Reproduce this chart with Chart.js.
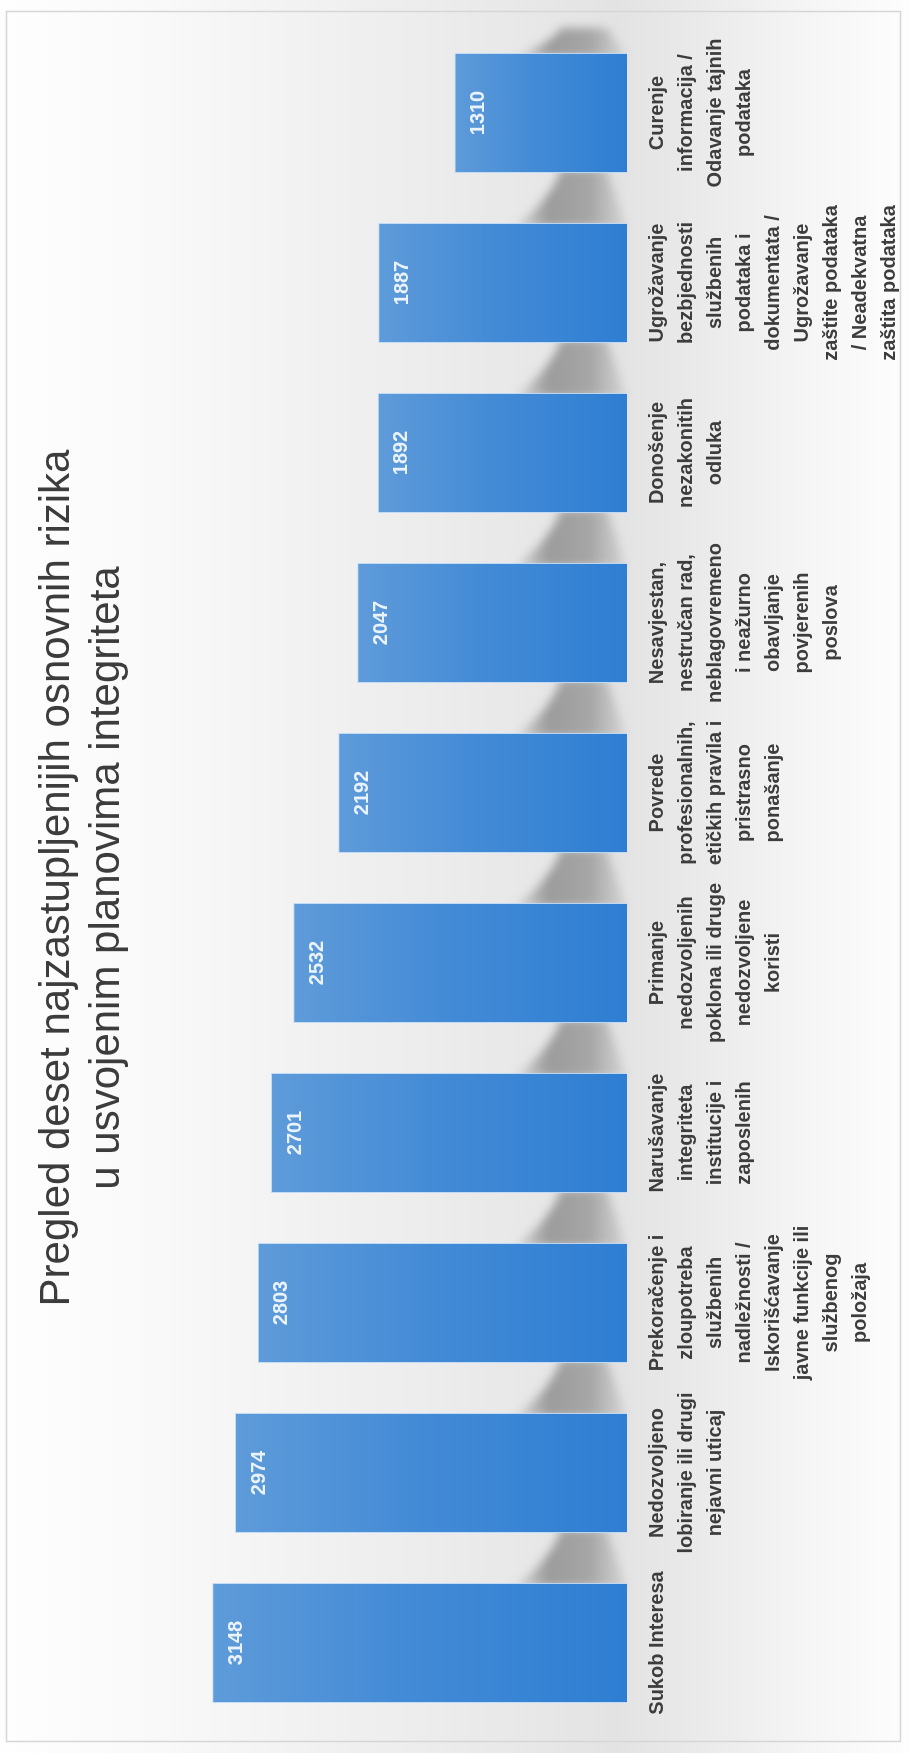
<!DOCTYPE html>
<html>
<head>
<meta charset="utf-8">
<script src="https://cdn.jsdelivr.net/npm/chart.js@4.4.1/dist/chart.umd.min.js"></script>
<style>
html, body { margin: 0; padding: 0; background: #fff; overflow: hidden; }
/* chart is drawn upright, then the whole box is turned a quarter left */
#wrap {
    position: absolute; left: 0; top: 0;
    width: 1753px; height: 909px;
    transform-origin: 0 0;
    transform: translateY(1753px) rotate(-90deg);
}
</style>
</head>
<body>
<div id="wrap"><canvas id="riskChart" width="1753" height="909"></canvas></div>
<script>
const titleLines = [
    "Pregled deset najzastupljenijih osnovnih rizika",
    "u usvojenim planovima integriteta"
];

const categories = [
    ["Sukob Interesa"],
    ["Nedozvoljeno", "lobiranje ili drugi", "nejavni uticaj"],
    ["Prekoračenje i", "zloupotreba", "službenih", "nadležnosti /", "Iskorišćavanje", "javne funkcije ili", "službenog", "položaja"],
    ["Narušavanje", "integriteta", "institucije i", "zaposlenih"],
    ["Primanje", "nedozvoljenih", "poklona ili druge", "nedozvoljene", "koristi"],
    ["Povrede", "profesionalnih,", "etičkih pravila i", "pristrasno", "ponašanje"],
    ["Nesavjestan,", "nestručan rad,", "neblagovremeno", "i neažurno", "obavljanje", "povjerenih", "poslova"],
    ["Donošenje", "nezakonitih", "odluka"],
    ["Ugrožavanje", "bezbjednosti", "službenih", "podataka i", "dokumentata /", "Ugrožavanje", "zaštite podataka", "/ Neadekvatna", "zaštita podataka"],
    ["Curenje", "informacija /", "Odavanje tajnih", "podataka"]
];

const counts = [3148, 2974, 2803, 2701, 2532, 2192, 2047, 1892, 1887, 1310];

const axisMin = 0;
const axisMax = 3500;

const FONT = "'Liberation Sans', Arial, sans-serif";
Chart.defaults.font.family = FONT;

function barFill(context) {
    const chart = context.chart;
    if (!chart.chartArea || !chart.scales.y) return "#3f88d4";
    const y = chart.scales.y;
    const top = y.getPixelForValue(counts[context.dataIndex]);
    const bottom = y.getPixelForValue(0);
    const g = chart.ctx.createLinearGradient(0, top, 0, bottom);
    g.addColorStop(0, "#5e9bd9");
    g.addColorStop(0.45, "#448bd6");
    g.addColorStop(1, "#2e7ed3");
    return g;
}

// soft page backdrop, frame and the grey ribbon behind the bars
const backdrop = {
    id: "backdrop",
    beforeDraw(chart) {
        const { ctx, width, height } = chart;
        ctx.save();
        const g = ctx.createLinearGradient(0, 0, 0, height);
        g.addColorStop(0, "#fefefe");
        g.addColorStop(0.17, "#f9f9f9");
        g.addColorStop(0.35, "#f1f1f1");
        g.addColorStop(0.55, "#e9e9e9");
        g.addColorStop(0.68, "#e3e3e3");
        g.addColorStop(0.78, "#ebebeb");
        g.addColorStop(0.9, "#f6f6f6");
        g.addColorStop(1, "#fdfdfd");
        ctx.fillStyle = g;
        ctx.fillRect(0, 0, width, height);
        ctx.strokeStyle = "#d6d6d6";
        ctx.lineWidth = 1.5;
        ctx.strokeRect(11.5, 6.5, width - 23, height - 15);
        ctx.restore();
    },
    beforeDatasetsDraw(chart) {
        const ctx = chart.ctx;
        const bars = chart.getDatasetMeta(0).data;
        const base = chart.scales.y.getPixelForValue(0);
        ctx.save();
        ctx.filter = "blur(5px)";
        const shade = ctx.createLinearGradient(0, base - 120, 0, base);
        shade.addColorStop(0, "rgba(110,110,110,0)");
        shade.addColorStop(0.35, "rgba(105,105,105,0.6)");
        shade.addColorStop(0.7, "rgba(115,115,115,0.55)");
        shade.addColorStop(1, "rgba(160,160,160,0.25)");
        ctx.fillStyle = shade;
        for (let i = 0; i < bars.length; i++) {
            const a = bars[i].x + bars[i].width / 2 - 4;
            const b = i + 1 < bars.length
                ? bars[i + 1].x - bars[i + 1].width / 2 + 4
                : chart.chartArea.right;
            const mid = (a + b) / 2;
            ctx.beginPath();
            ctx.moveTo(a, base - 2);
            ctx.lineTo(a, base - 112);
            ctx.quadraticCurveTo(mid, base - 75, b, base - 66);
            ctx.lineTo(b, base - 20);
            ctx.quadraticCurveTo(mid, base - 10, a, base - 2);
            ctx.closePath();
            ctx.fill();
        }
        ctx.restore();
    }
};

const valueLabels = {
    id: "valueLabels",
    afterDatasetsDraw(chart) {
        const ctx = chart.ctx;
        const bars = chart.getDatasetMeta(0).data;
        ctx.save();
        ctx.font = "bold 20px " + FONT;
        ctx.fillStyle = "#eaf2fb";
        ctx.textAlign = "center";
        ctx.textBaseline = "top";
        bars.forEach((bar, i) => {
            ctx.fillText(String(counts[i]), bar.x, bar.y + 14);
        });
        ctx.restore();
    }
};

const riskChart = new Chart(
    document.getElementById("riskChart"), {
        type: "bar",
        data: {
            labels: categories,
            datasets: [
                {
                    label: "Broj rizika",
                    data: counts,
                    backgroundColor: barFill,
                    borderColor: "rgba(190,218,246,0.9)",
                    borderWidth: 1,
                    barPercentage: 0.706,
                    categoryPercentage: 1.0
                }
            ]
        },
        options: {
            responsive: false,
            animation: false,
            layout: { padding: { left: 25, right: 28, top: 0, bottom: 0 } },
            plugins: {
                legend: { display: false },
                tooltip: { enabled: false },
                title: {
                    display: true,
                    text: titleLines,
                    color: "#3c3c3c",
                    font: { size: 42, weight: "normal", lineHeight: 1.2 },
                    padding: { top: 32, bottom: 33 }
                }
            },
            scales: {
                x: {
                    grid: { display: false, drawTicks: false },
                    border: { display: false },
                    ticks: {
                        autoSkip: false,
                        maxRotation: 0,
                        minRotation: 0,
                        padding: 16,
                        color: "#3d3d3d",
                        font: { size: 20, weight: "bold", lineHeight: 1.45 }
                    },
                    afterFit(scale) { scale.height = 282; }
                },
                y: {
                    display: false,
                    min: axisMin,
                    max: axisMax
                }
            }
        },
        plugins: [backdrop, valueLabels]
    }
);
</script>
</body>
</html>
